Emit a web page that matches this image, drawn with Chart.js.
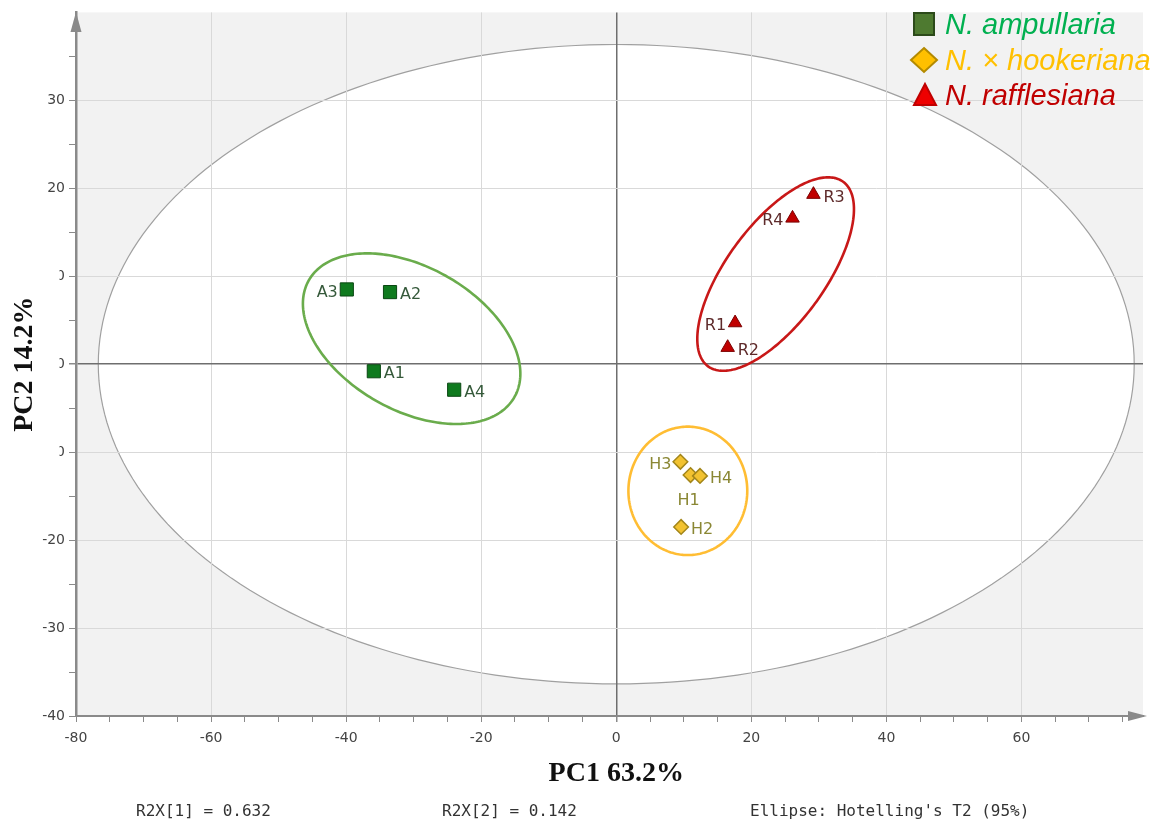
<!DOCTYPE html>
<html><head><meta charset="utf-8">
<script src="https://cdn.jsdelivr.net/npm/chart.js@4.4.1/dist/chart.umd.min.js"></script>
<style>html,body{margin:0;padding:0;background:#fff}#wrap{width:1159px;height:825px;position:relative}</style>
</head><body><div id="wrap"><canvas id="c" width="1159" height="825"></canvas></div>
<script>
// ---- data ----
const groupNames = ['N. ampullaria', 'N. \u00d7 hookeriana', 'N. rafflesiana'];
const labelsA = ['A1', 'A2', 'A3', 'A4'];
const pc1A = [-35.9, -33.5, -39.9, -24.0];
const pc2A = [-0.8, 8.2, 8.5, -2.9];
const labelsH = ['H1', 'H2', 'H3', 'H4'];
const pc1H = [11.0, 9.6, 9.5, 12.4];
const pc2H = [-12.6, -18.5, -11.1, -12.7];
const labelsR = ['R1', 'R2', 'R3', 'R4'];
const pc1R = [17.6, 16.5, 29.2, 26.1];
const pc2R = [4.7, 1.9, 19.3, 16.6];
// label side per point
const sideA = ['right', 'right', 'left', 'right'];
const sideH = ['below', 'right', 'left', 'right'];
const sideR = ['left', 'right', 'right', 'left'];
// ellipses: [centre PC1, centre PC2, half-width PC1, half-height PC2, correlation]
const hotelling = [0, 0, 76.7, 36.35, 0];
const ellipseA = [-30.3, 2.9, 16.1, 9.7, -0.41];
const ellipseH = [10.6, -14.4, 8.8, 7.3, 0];
const ellipseR = [23.6, 10.25, 11.6, 11.0, 0.67];
// axes
const xMajor = [-80, -60, -40, -20, 0, 20, 40, 60];
const yMajor = [-40, -30, -20, -10, 0, 10, 20, 30];
const xTitle = 'PC1 63.2%';
const yTitle = 'PC2 14.2%';
const footer = ['R2X[1] = 0.632', 'R2X[2] = 0.142', "Ellipse: Hotelling's T2 (95%)"];

function pts(xs, ys, ls, sides) { return xs.map((v, i) => ({x: v, y: ys[i], label: ls[i], side: sides[i]})); }
function minorTicks(lo, hi) { const a = []; for (let v = lo; v <= hi; v += 5) a.push({value: v}); return a; }

function ellipsePath(chart, p) {
  const {ctx, scales: {x, y}} = chart;
  const [cx, cy, sx, sy, r] = p; const k = Math.sqrt(1 - r * r);
  ctx.beginPath();
  for (let i = 0; i <= 240; i++) {
    const t = i / 240 * 2 * Math.PI;
    const px = x.getPixelForValue(cx + sx * Math.cos(t));
    const py = y.getPixelForValue(cy + sy * (r * Math.cos(t) + k * Math.sin(t)));
    if (i) ctx.lineTo(px, py); else ctx.moveTo(px, py);
  }
  ctx.closePath();
}

const decor = {
  id: 'decor',
  beforeDraw(chart) {
    const {ctx, chartArea: a} = chart;
    ctx.save();
    ctx.fillStyle = '#f2f2f2';
    ctx.fillRect(a.left, a.top, a.right - a.left, a.bottom - a.top);
    ellipsePath(chart, hotelling);
    ctx.fillStyle = '#ffffff'; ctx.fill();
    ctx.strokeStyle = '#a0a0a0'; ctx.lineWidth = 1.2; ctx.stroke();
    ctx.restore();
  },
  beforeDatasetsDraw(chart) {
    const {ctx} = chart;
    ctx.save();
    ctx.lineWidth = 2.6;
    [[ellipseA, '#6aac4c'], [ellipseH, '#ffbd33'], [ellipseR, '#c81818']].forEach(([p, c]) => {
      ellipsePath(chart, p); ctx.strokeStyle = c; ctx.stroke();
    });
    ctx.restore();
  },
  afterDatasetsDraw(chart) {
    const {ctx} = chart;
    const colors = ['#35593a', '#8a8734', '#5e2a2a'];
    ctx.save();
    ctx.font = '16px "DejaVu Sans"';
    ctx.textBaseline = 'middle';
    chart.data.datasets.forEach((ds, di) => {
      const meta = chart.getDatasetMeta(di);
      ctx.fillStyle = colors[di];
      meta.data.forEach((el, i) => {
        const d = ds.data[i];
        if (d.side === 'right') { ctx.textAlign = 'left'; ctx.fillText(d.label, el.x + 10, el.y + 3); }
        else if (d.side === 'left') { ctx.textAlign = 'right'; ctx.fillText(d.label, el.x - 9, el.y + 3); }
        else { ctx.textAlign = 'center'; ctx.fillText(d.label, el.x - 2, el.y + 26); }
      });
    });
    ctx.restore();
  },
  afterDraw(chart) {
    const {ctx, chartArea: a} = chart;
    ctx.save();
    // axis arrows
    ctx.fillStyle = '#8a8a8a';
    ctx.beginPath(); ctx.moveTo(a.left, 12); ctx.lineTo(a.left - 5.5, 32); ctx.lineTo(a.left + 5.5, 32); ctx.closePath(); ctx.fill();
    ctx.beginPath(); ctx.moveTo(a.right + 4, a.bottom); ctx.lineTo(a.right - 15, a.bottom - 5); ctx.lineTo(a.right - 15, a.bottom + 5); ctx.closePath(); ctx.fill();
    // y title (white panel behind, as in the source figure)
    ctx.fillStyle = '#ffffff';
    ctx.fillRect(0, 245, 59.5, 230);
    ctx.fillStyle = '#111111';
    ctx.font = 'bold 28px "Liberation Serif"';
    ctx.textAlign = 'center'; ctx.textBaseline = 'middle';
    ctx.save(); ctx.translate(25, chart.scales.y.getPixelForValue(0)); ctx.rotate(-Math.PI / 2); ctx.fillText(yTitle, 0, 0); ctx.restore();
    // x title
    ctx.fillText(xTitle, chart.scales.x.getPixelForValue(0), 774);
    // footer
    ctx.font = '16px "DejaVu Sans Mono"';
    ctx.fillStyle = '#333333';
    ctx.textAlign = 'left';
    ctx.fillText(footer[0], 136, 812);
    ctx.fillText(footer[1], 442, 812);
    ctx.fillText(footer[2], 750, 812);
    // legend
    const lx = 924, rows = [24, 60, 95];
    ctx.lineWidth = 2;
    // square
    ctx.fillStyle = '#4e7a30'; ctx.strokeStyle = '#2c4a1a';
    ctx.fillRect(lx - 10, rows[0] - 11, 20, 22); ctx.strokeRect(lx - 10, rows[0] - 11, 20, 22);
    // diamond
    ctx.fillStyle = '#ffc000'; ctx.strokeStyle = '#b38a00';
    ctx.beginPath(); ctx.moveTo(lx, rows[1] - 12); ctx.lineTo(lx + 13, rows[1]); ctx.lineTo(lx, rows[1] + 12); ctx.lineTo(lx - 13, rows[1]); ctx.closePath(); ctx.fill(); ctx.stroke();
    // triangle
    ctx.fillStyle = '#ee0000'; ctx.strokeStyle = '#c00000';
    ctx.beginPath(); ctx.moveTo(lx + 1, rows[2] - 11); ctx.lineTo(lx + 12, rows[2] + 10); ctx.lineTo(lx - 10, rows[2] + 10); ctx.closePath(); ctx.fill(); ctx.stroke();
    ctx.font = 'italic 29px "Liberation Sans"';
    ctx.textAlign = 'left'; ctx.textBaseline = 'alphabetic';
    const tc = ['#00b050', '#ffc000', '#c00000'];
    groupNames.forEach((g, i) => { ctx.fillStyle = tc[i]; ctx.fillText(g, 945, rows[i] + 10); });
    ctx.restore();
  }
};

const gridColor = (majors) => (c) => {
  const v = c.tick.value;
  if (v === 0) return '#6e6e6e';
  if (v === majors[0]) return 'rgba(0,0,0,0)';
  return majors.includes(v) ? '#d9d9d9' : 'rgba(0,0,0,0)';
};

new Chart(document.getElementById('c'), {
  type: 'scatter',
  data: {
    datasets: [
      {label: groupNames[0], data: pts(pc1A, pc2A, labelsA, sideA), pointStyle: 'rect', pointRadius: 9.3, backgroundColor: '#0f7a1e', borderColor: '#0a4712', borderWidth: 1},
      {label: groupNames[1], data: pts(pc1H, pc2H, labelsH, sideH), pointStyle: 'rectRot', pointRadius: 7.3, backgroundColor: '#f2c230', borderColor: '#a3861a', borderWidth: 1.5},
      {label: groupNames[2], data: pts(pc1R, pc2R, labelsR, sideR), pointStyle: 'triangle', pointRadius: 7.8, backgroundColor: '#c00000', borderColor: '#7a0000', borderWidth: 1}
    ]
  },
  options: {
    responsive: false, animation: false, events: [],
    layout: {padding: {left: 0, top: 10, right: 16, bottom: 0}},
    plugins: {legend: {display: false}, tooltip: {enabled: false}},
    scales: {
      x: {
        type: 'linear', min: -80, max: 78,
        afterBuildTicks: s => { s.ticks = minorTicks(-80, 75); },
        afterFit: s => { s.height = 109; },
        ticks: {autoSkip: false, maxRotation: 0, padding: 8, color: '#444', font: {family: 'DejaVu Sans', size: 14},
          callback: v => xMajor.includes(v) ? String(v) : ''},
        grid: {color: gridColor(xMajor), lineWidth: c => c.tick.value === 0 ? 1.5 : 1, tickColor: '#8a8a8a', tickLength: 6, drawTicks: true},
        border: {color: '#8a8a8a', width: 2}
      },
      y: {
        type: 'linear', min: -40, max: 40,
        afterBuildTicks: s => { s.ticks = minorTicks(-40, 35); },
        afterFit: s => { s.width = 76; },
        ticks: {autoSkip: false, padding: 4, color: '#444', font: {family: 'DejaVu Sans', size: 14},
          callback: v => yMajor.includes(v) ? String(v) : ''},
        grid: {color: gridColor(yMajor), lineWidth: c => c.tick.value === 0 ? 1.5 : 1, tickColor: '#8a8a8a', tickLength: 7, drawTicks: true},
        border: {color: '#8a8a8a', width: 2.5}
      }
    }
  },
  plugins: [decor]
});
</script></body></html>
